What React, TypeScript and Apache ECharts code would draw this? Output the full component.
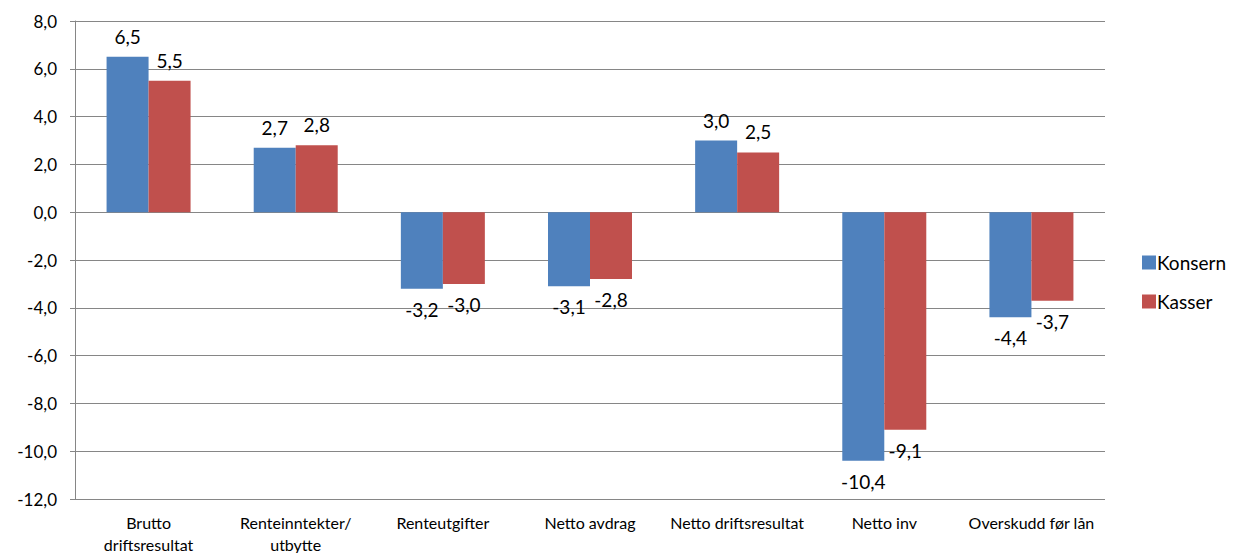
import React, { useEffect, useRef } from "react";
import * as echarts from "echarts";

const categories = [
  "Brutto\ndriftsresultat",
  "Renteinntekter/\nutbytte",
  "Renteutgifter",
  "Netto avdrag",
  "Netto driftsresultat",
  "Netto inv",
  "Overskudd før lån",
];
const konsern = [6.5, 2.7, -3.2, -3.1, 3.0, -10.4, -4.4];
const kasser = [5.5, 2.8, -3.0, -2.8, 2.5, -9.1, -3.7];
const seriesNames = ["Konsern", "Kasser"];
const colors = ["#4F81BD", "#C0504D"];

const fmt = (v: number) => v.toFixed(1).replace(".", ",");
const FONT = "Lato, 'Open Sans', sans-serif";

export default function App() {
  const ref = useRef<HTMLDivElement>(null);
  useEffect(() => {
    if (!ref.current) return;
    const chart = echarts.init(ref.current, undefined, { renderer: "svg" });
    const mk = (name: string, data: number[], color: string) => ({
      name,
      type: "bar",
      data: data.map((v) => ({
        value: v,
        label: { position: v >= 0 ? "top" : "bottom" },
      })),
      barWidth: 42,
      barGap: "0%",
      itemStyle: { color },
      label: {
        show: true,
        formatter: (p: any) => fmt(p.value),
        fontSize: 19,
        fontFamily: FONT,
        color: "#000",
        distance: 11,
      },
    });
    chart.setOption({
      animation: false,
      textStyle: { fontFamily: FONT },
      grid: {
        left: 75,
        right: 129,
        top: 21,
        bottom: 54,
        containLabel: false,
        outerBoundsMode: "none",
      },
      legend: {
        orient: "vertical",
        left: 1137,
        top: 248,
        itemWidth: 14,
        itemHeight: 14,
        itemGap: 20,
        icon: "rect",
        data: seriesNames,
        textStyle: { fontSize: 19, color: "#000", fontFamily: FONT, padding: [0, 0, 0, -4] },
      },
      xAxis: {
        type: "category",
        data: categories,
        position: "bottom",
        axisLine: { show: false },
        axisTick: { show: false },
        axisLabel: {
          fontSize: 16,
          color: "#000",
          fontFamily: FONT,
          margin: 12,
          lineHeight: 22,
          interval: 0,
        },
      },
      yAxis: {
        type: "value",
        min: -12,
        max: 8,
        interval: 2,
        axisLine: { show: true, onZero: false, lineStyle: { color: "#868686", width: 1 } },
        axisTick: { show: true, inside: false, length: 5, lineStyle: { color: "#868686" } },
        splitLine: { show: true, lineStyle: { color: "#868686", width: 1 } },
        axisLabel: {
          fontSize: 17,
          color: "#000",
          fontFamily: FONT,
          margin: 18,
          formatter: (v: number) => fmt(v),
        },
      },
      series: [mk(seriesNames[0], konsern, colors[0]), mk(seriesNames[1], kasser, colors[1])],
    });
    return () => chart.dispose();
  }, []);
  return (
    <div
      ref={ref}
      style={{ position: "absolute", left: 0, top: 0, width: 1234, height: 553, background: "#fff" }}
    />
  );
}
